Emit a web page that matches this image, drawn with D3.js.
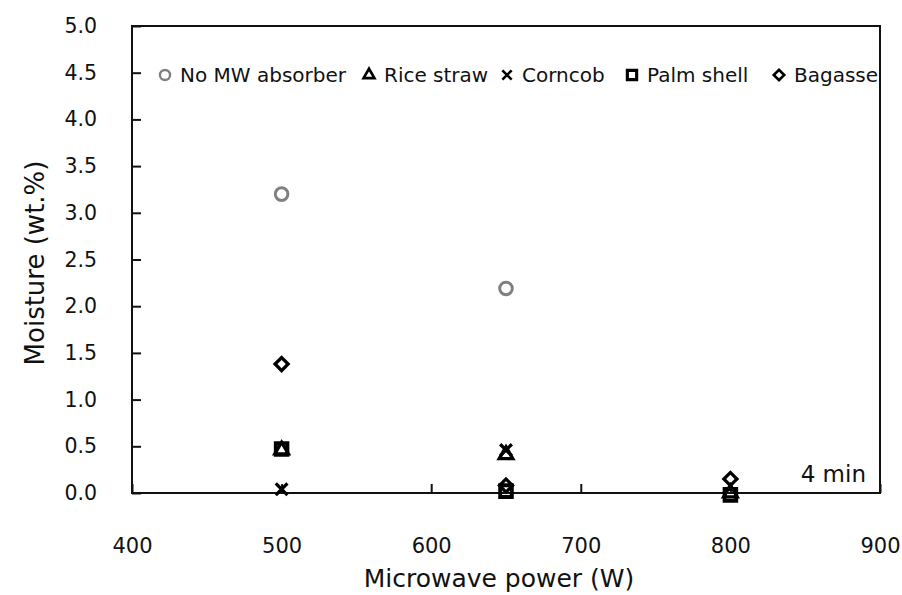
<!DOCTYPE html>
<html><head><meta charset="utf-8">
<script src="https://cdn.jsdelivr.net/npm/d3@7"></script>
<style>body{margin:0;background:#fff}svg{display:block}text{font-family:"DejaVu Sans",sans-serif;fill:#111}</style>
</head><body><svg id="c" width="902" height="595"></svg>
<script>
const xTicks=[400,500,600,700,800,900];
const yTicks=[0,0.5,1,1.5,2,2.5,3,3.5,4,4.5,5];
const seriesNames=["No MW absorber","Rice straw","Corncob","Palm shell","Bagasse"];
const noMW=[[500,3.2],[650,2.19]];
const riceStraw=[[500,0.46],[650,0.41],[800,0.0]];
const corncob=[[500,0.04],[650,0.46]];
const palmShell=[[500,0.47],[650,0.02],[800,-0.02]];
const bagasse=[[500,1.38],[650,0.08],[800,0.15]];

const svg=d3.select("#c");
const m={l:132,r:880,t:26,b:493};
const x=d3.scaleLinear().domain([400,900]).range([m.l,m.r]);
const y=d3.scaleLinear().domain([0,5]).range([m.b,m.t]);

svg.append("rect").attr("x",m.l).attr("y",m.t).attr("width",m.r-m.l).attr("height",m.b-m.t)
  .attr("fill","none").attr("stroke","#111").attr("stroke-width",2);

const ya=svg.append("g").attr("transform",`translate(${m.l},0)`)
  .call(d3.axisLeft(y).tickValues(yTicks).tickSize(-9).tickPadding(35).tickFormat(d3.format(".1f")));
ya.select(".domain").remove();
ya.selectAll("line").attr("stroke","#111").attr("stroke-width",2);
ya.selectAll("text").attr("font-size",20.5).attr("fill","#111");

const xa=svg.append("g").attr("transform",`translate(0,${m.b})`)
  .call(d3.axisBottom(x).tickValues(xTicks).tickSize(-9).tickPadding(45).tickFormat(d3.format("d")));
xa.select(".domain").remove();
xa.selectAll("line").attr("stroke","#111").attr("stroke-width",2);
xa.selectAll("text").attr("font-size",21).attr("fill","#111");

svg.append("text").attr("x",499).attr("y",587).attr("text-anchor","middle")
  .attr("font-size",25).text("Microwave power (W)");
svg.append("text").attr("transform",`translate(44,263) rotate(-90)`).attr("text-anchor","middle")
  .attr("font-size",26).text("Moisture (wt.%)");
svg.append("text").attr("x",866).attr("y",482).attr("text-anchor","end").attr("font-size",23).text("4 min");

const sym={
  circle:d3.symbol().type(d3.symbolCircle).size(125),
  triangle:d3.symbol().type(d3.symbolTriangle).size(80),
  cross:d3.symbol().type(d3.symbolX).size(90),
  square:d3.symbol().type(d3.symbolSquare).size(135),
  diamond:d3.symbol().type(d3.symbolSquare).size(85)
};
const styles=[
  {data:noMW,path:sym.circle(),stroke:"#808080",sw:3,rot:0},
  {data:riceStraw,path:sym.triangle(),stroke:"#000",sw:3.3,rot:0},
  {data:corncob,path:sym.cross(),stroke:"#000",sw:3.3,rot:0},
  {data:palmShell,path:sym.square(),stroke:"#000",sw:3.9,rot:0},
  {data:bagasse,path:sym.diamond(),stroke:"#000",sw:3.3,rot:45}
];
styles.forEach(s=>{
  svg.append("g").selectAll("path").data(s.data).join("path")
    .attr("d",s.path).attr("fill","none").attr("stroke",s.stroke).attr("stroke-width",s.sw)
    .attr("transform",d=>`translate(${x(d[0])},${y(d[1])}) rotate(${s.rot})`);
});

const legX=[165,369,507,632,779];
const leg=svg.append("g");
styles.forEach((s,i)=>{
  leg.append("path").attr("d",s.path).attr("fill","none").attr("stroke",s.stroke).attr("stroke-width",s.sw)
    .attr("transform",`translate(${legX[i]},75) rotate(${s.rot}) scale(0.8)`);
  leg.append("text").attr("x",legX[i]+15).attr("y",82).attr("font-size",20).text(seriesNames[i]);
});
</script></body></html>
